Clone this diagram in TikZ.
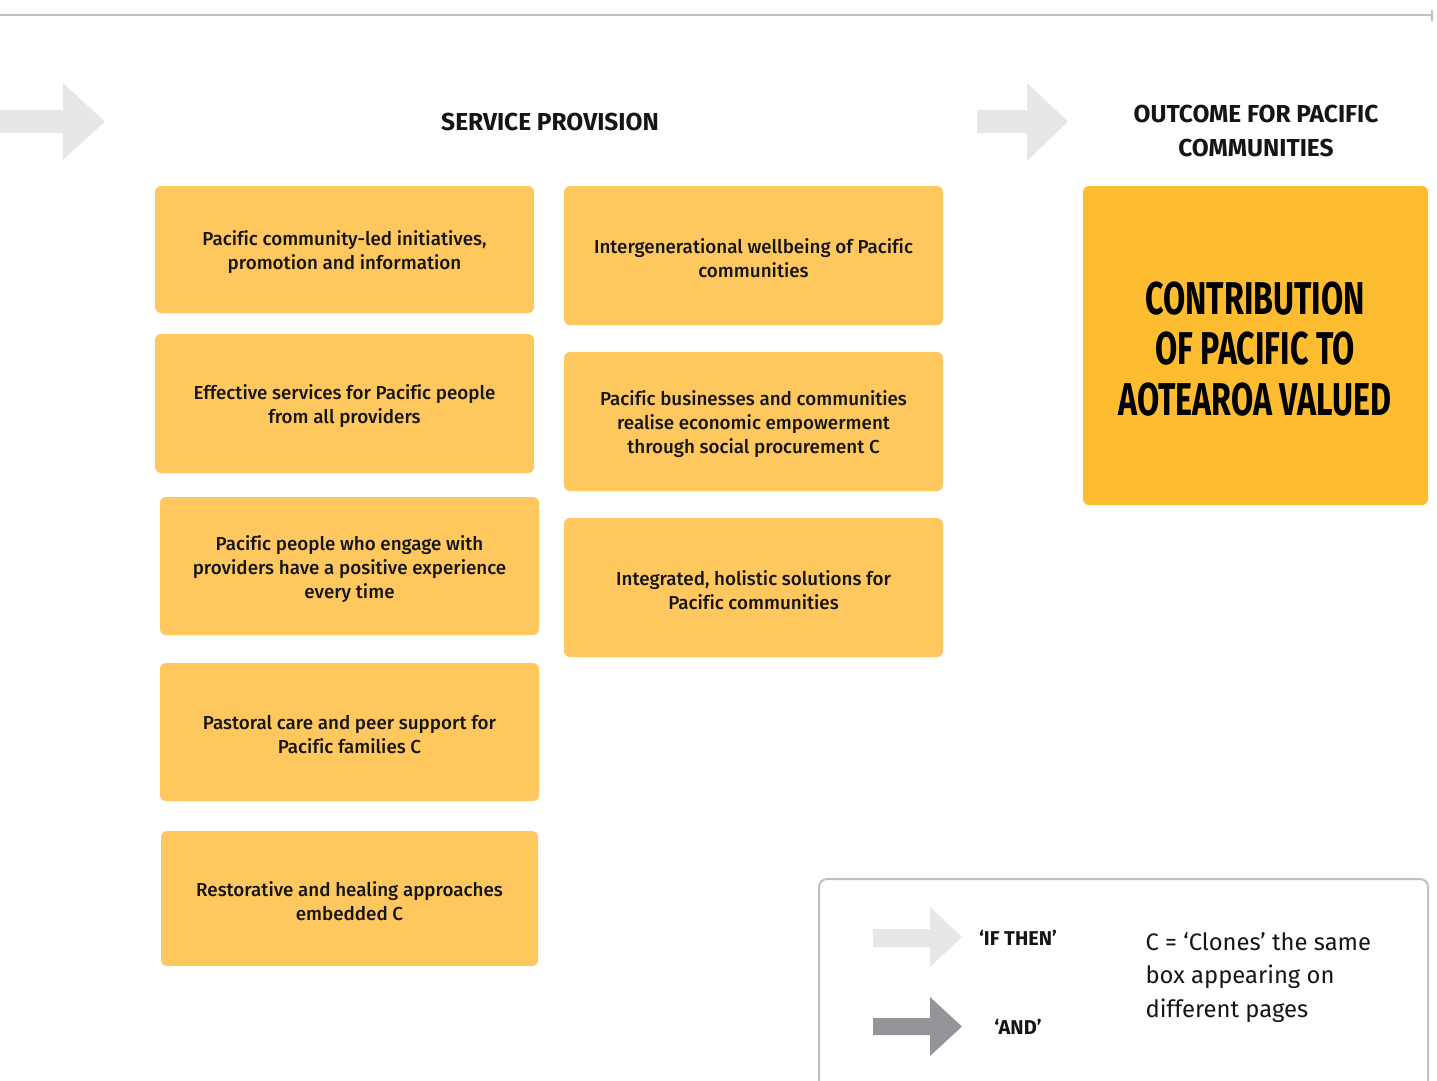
\documentclass[tikz,border=0pt]{standalone}
\usepackage{fontspec}
\setmainfont{Fira Sans}[Ligatures=NoCommon]
\newfontfamily\medfont{Fira Sans Medium}[Ligatures=NoCommon]
\newfontfamily\boldfont{Fira Sans Bold}[Ligatures=NoCommon]
\definecolor{cardc}{HTML}{FFC85E}
\definecolor{bigc}{HTML}{FEBD30}
\definecolor{arrowlight}{HTML}{E6E7E8}
\definecolor{arrowdark}{HTML}{939598}
\definecolor{linec}{HTML}{C0C0C0}
\definecolor{txt}{HTML}{151515}
\newcommand\condtxt[1]{\scalebox{0.70}[1]{#1}}
\tikzset{
  card/.style={rounded corners=6pt, fill=cardc, inner sep=0pt},
  cardtxt/.style={align=center, text=txt, yshift=-3pt,
    font=\medfont\fontsize{18.8}{24}\selectfont},
  header/.style={align=center, text=txt, font=\boldfont\fontsize{24.5}{34}\selectfont},
  legtxt/.style={text=txt, font=\boldfont\fontsize{20}{22}\selectfont},
}
\begin{document}
\begin{tikzpicture}[x=1pt,y=-1pt]
\useasboundingbox (0,0) rectangle (1437,1080);
% top rule
\draw[linec, line width=2.5pt] (0,15) -- (1432,15);
\draw[linec, line width=2.5pt] (1432,10) -- (1432,21);
% grey 'if then' arrows
\fill[arrowlight] (0,110) -- (63,110) -- (63,83) -- (105,121.5) -- (63,160) -- (63,133) -- (0,133) -- cycle;
\fill[arrowlight] (977,110) -- (1027,110) -- (1027,83) -- (1068,121.5) -- (1027,161) -- (1027,133) -- (977,133) -- cycle;
% headers
\node[header] (hsp) at (550,122) {SERVICE PROVISION};
\node[header] (hout) at (1256,131) {OUTCOME FOR PACIFIC\\COMMUNITIES};
% left column
\node[card, minimum width=379pt, minimum height=127pt,
  label={[cardtxt]center:{Pacific community-led initiatives,\\promotion and information}}] (b1) at (344.5,249.5) {};
\node[card, minimum width=379pt, minimum height=139pt,
  label={[cardtxt]center:{Effective services for Pacific people\\from all providers}}] (b2) at (344.5,403.5) {};
\node[card, minimum width=379pt, minimum height=138pt,
  label={[cardtxt]center:{Pacific people who engage with\\providers have a positive experience\\every time}}] (b3) at (349.5,566) {};
\node[card, minimum width=379pt, minimum height=138pt,
  label={[cardtxt]center:{Pastoral care and peer support for\\Pacific families C}}] (b4) at (349.5,732) {};
\node[card, minimum width=377pt, minimum height=135pt,
  label={[cardtxt]center:{Restorative and healing approaches\\embedded C}}] (b5) at (349.5,898.5) {};
% right column
\node[card, minimum width=379pt, minimum height=139pt,
  label={[cardtxt]center:{Intergenerational wellbeing of Pacific\\communities}}] (b6) at (753.5,255.5) {};
\node[card, minimum width=379pt, minimum height=139pt,
  label={[cardtxt]center:{Pacific businesses and communities\\realise economic empowerment\\through social procurement C}}] (b7) at (753.5,421.5) {};
\node[card, minimum width=379pt, minimum height=139pt,
  label={[cardtxt]center:{Integrated, holistic solutions for\\Pacific communities}}] (b8) at (753.5,587.5) {};
% outcome box
\node[rounded corners=6pt, fill=bigc, minimum width=345pt, minimum height=319pt, inner sep=0pt] (big) at (1255.5,345.5) {};
\node[align=center, text=black, font=\boldfont\fontsize{46}{50.5}\selectfont] (bigt) at (1255,349)
  {\condtxt{CONTRIBUTION}\\\condtxt{OF PACIFIC TO}\\\condtxt{AOTEAROA VALUED}};
% legend
\draw[linec, line width=2pt, rounded corners=8pt] (819,1090) -- (819,879) -- (1428,879) -- (1428,1090);
\fill[arrowlight] (873,929) -- (930,929) -- (930,907) -- (962,937) -- (930,967) -- (930,947) -- (873,947) -- cycle;
\fill[arrowdark] (873,1018) -- (930,1018) -- (930,997) -- (962,1026.5) -- (930,1056) -- (930,1035) -- (873,1035) -- cycle;
\node[legtxt] (lif) at (1018,938) {‘IF THEN’};
\node[legtxt] (land) at (1018,1027) {‘AND’};
\node[anchor=north west, align=left, text=txt, font=\fontsize{23.8}{33.5}\selectfont] (lc) at (1142,929)
  {C = ‘Clones’ the same\\box appearing on\\different pages};
\end{tikzpicture}
\end{document}
